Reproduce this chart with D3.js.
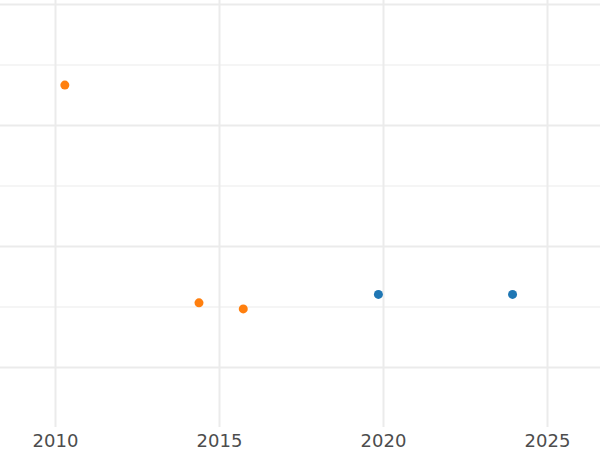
<!DOCTYPE html>
<html>
<head>
<meta charset="utf-8">
<script src="https://cdn.jsdelivr.net/npm/d3@7"></script>
<style>
  html, body { margin: 0; padding: 0; background: #fff; }
  svg { display: block; }
</style>
</head>
<body>
<svg id="chart"></svg>
<script>
// data (y has no labels, so units are relative)
const groups = ["orange", "blue"];
const orangeYears = [2010.30, 2014.39, 2015.74];
const orangeValues = [2.33, 0.53, 0.48];
const blueYears = [2019.86, 2023.95];
const blueValues = [0.60, 0.60];
const xTicks = [2010, 2015, 2020, 2025];
const yMajor = [0, 1, 2, 3];
const yMinor = [0.5, 1.5, 2.5];

const colors = { orange: "#ff7f0e", blue: "#1f77b4" };

const width = 600;
const height = 450;
const panelBottom = 427;

const svg = d3.select("#chart")
  .attr("width", width)
  .attr("height", height);

const xScale = d3.scaleLinear()
  .domain([2008.323, 2026.616])
  .range([0, width]);

const yScale = d3.scaleLinear()
  .domain([-0.496, 3.033])
  .range([panelBottom, 0]);

// ===== GRID =====
const minorGrid = svg.append("g")
  .call(d3.axisLeft(yScale).tickValues(yMinor).tickSize(-width).tickFormat(""));
minorGrid.select(".domain").remove();
minorGrid.selectAll("line").attr("stroke", "#ebebeb").attr("stroke-width", 1);

const majorGrid = svg.append("g")
  .call(d3.axisLeft(yScale).tickValues(yMajor).tickSize(-width).tickFormat(""));
majorGrid.select(".domain").remove();
majorGrid.selectAll("line").attr("stroke", "#ebebeb").attr("stroke-width", 2);

const xAxis = svg.append("g")
  .attr("transform", `translate(0,${panelBottom})`)
  .call(d3.axisBottom(xScale)
    .tickValues(xTicks)
    .tickSize(-panelBottom)
    .tickPadding(7)
    .tickFormat(d3.format("d")));
xAxis.select(".domain").remove();
xAxis.selectAll("line").attr("stroke", "#ebebeb").attr("stroke-width", 2);
xAxis.selectAll("text")
  .attr("fill", "#4d4d4d")
  .attr("font-size", 18)
  .attr("font-family", "DejaVu Sans, sans-serif");

// ===== POINTS =====
const series = {
  orange: orangeYears.map((yr, i) => ({ year: yr, value: orangeValues[i] })),
  blue: blueYears.map((yr, i) => ({ year: yr, value: blueValues[i] }))
};

groups.forEach(g => {
  svg.append("g")
    .selectAll("circle")
    .data(series[g])
    .enter()
    .append("circle")
    .attr("cx", d => xScale(d.year))
    .attr("cy", d => yScale(d.value))
    .attr("r", 4.5)
    .attr("fill", colors[g]);
});
</script>
</body>
</html>
